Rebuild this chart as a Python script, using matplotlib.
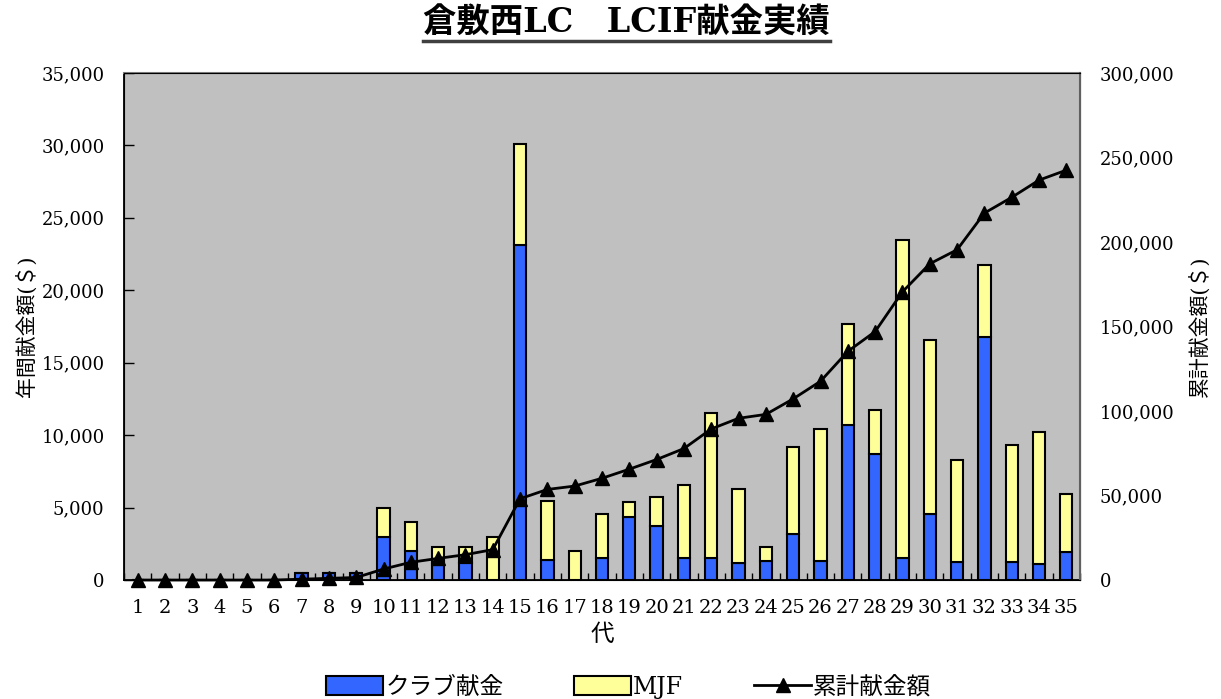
import matplotlib
matplotlib.use("Agg")
import matplotlib.pyplot as plt
import numpy as np

plt.rcParams['font.family'] = ['DejaVu Serif', 'Noto Sans CJK JP']

# data
generations = list(range(1, 36))
club = [0, 0, 0, 0, 0, 0, 500, 500, 500, 3000,
        2000, 1200, 1200, 0, 23100, 1380, 0, 1500, 4380, 3740,
        1500, 1500, 1190, 1310, 3210, 1310, 10710, 8690, 1500, 4570,
        1240, 16790, 1240, 1140, 1950]
mjf = [0, 0, 0, 0, 0, 0, 0, 0, 0, 2000,
       2000, 1060, 1060, 3000, 7000, 4100, 2000, 3070, 1020, 1970,
       5050, 10050, 5120, 1000, 6000, 9090, 6980, 3020, 22000, 12030,
       7050, 4950, 8050, 9050, 4000]
cumulative = [0, 0, 0, 0, 0, 0, 500, 1000, 1500, 6500,
              10500, 12800, 15000, 18000, 48100, 53600, 55600, 60200, 65600, 71300,
              77800, 89400, 95700, 98000, 107200, 117600, 135300, 147000, 170500, 187100,
              195400, 217100, 226400, 236600, 242500]

fig = plt.figure(figsize=(12.21, 6.99), dpi=100)
ax = fig.add_axes([0.1016, 0.1702, 0.7829, 0.7254])
ax.set_facecolor('#C0C0C0')

x = np.array(generations)
b1 = ax.bar(x, club, width=0.45, color='#3366FF', edgecolor='black', linewidth=1.5, label='クラブ献金', zorder=2)
b2 = ax.bar(x, mjf, width=0.45, bottom=club, color='#FFFF99', edgecolor='black', linewidth=1.5, label='MJF', zorder=2)

ax.set_xlim(0.5, 35.5)
ax.set_ylim(0, 35000)
ax.set_yticks(np.arange(0, 35001, 5000))
ax.yaxis.set_major_formatter(matplotlib.ticker.FuncFormatter(lambda v, p: f'{int(v):,}'))
ax.set_xticks(x)
ax.set_xticklabels([str(g) for g in generations], fontsize=14)
ax.set_xticks(np.arange(0.5, 36, 1), minor=True)
ax.tick_params(axis='x', which='major', length=0, pad=14)
ax.tick_params(axis='x', which='minor', direction='in', length=5, width=1)
ax.tick_params(axis='y', direction='in', length=7, width=1, labelsize=13, pad=14)
for s in ['left', 'bottom']:
    ax.spines[s].set_linewidth(1.3)
ax.spines['top'].set_color('#808080')
ax.spines['top'].set_linewidth(1.5)
ax.set_xlabel('代', fontsize=17, labelpad=4)
ax.set_ylabel('年間献金額(＄)', fontsize=15, labelpad=3)

ax2 = ax.twinx()
line, = ax2.plot(x, cumulative, color='black', linewidth=2, marker='^', markersize=10,
                 label='累計献金額', zorder=3, clip_on=False)
ax2.set_ylim(0, 300000)
ax2.set_yticks(np.arange(0, 300001, 50000))
ax2.yaxis.set_major_formatter(matplotlib.ticker.FuncFormatter(lambda v, p: f'{int(v):,}'))
ax2.tick_params(axis='y', length=0, labelsize=13, pad=14)
ax2.spines['right'].set_color('#606060')
ax2.spines['right'].set_linewidth(1.5)
ax2.set_ylabel('累計献金額(＄)', fontsize=15, labelpad=10)

fig.legend([b1, b2, line], ['クラブ献金', 'MJF', '累計献金額'], loc='lower center',
           bbox_to_anchor=(0.515, -0.03), ncol=3, frameon=False, fontsize=17,
           handlelength=2.4, handleheight=0.8, columnspacing=3.0, handletextpad=0.1)

title = fig.suptitle('倉敷西LC　LCIF献金実績', fontsize=24, fontweight='bold', x=0.513, y=0.99)

# underline the title
fig.canvas.draw()
bb = title.get_window_extent().transformed(fig.transFigure.inverted())
fig.add_artist(plt.Line2D([bb.x0, bb.x1], [bb.y0 - 0.002, bb.y0 - 0.002],
                          transform=fig.transFigure, color='#404040', linewidth=2.5))

fig.savefig('out.png', dpi=100)
